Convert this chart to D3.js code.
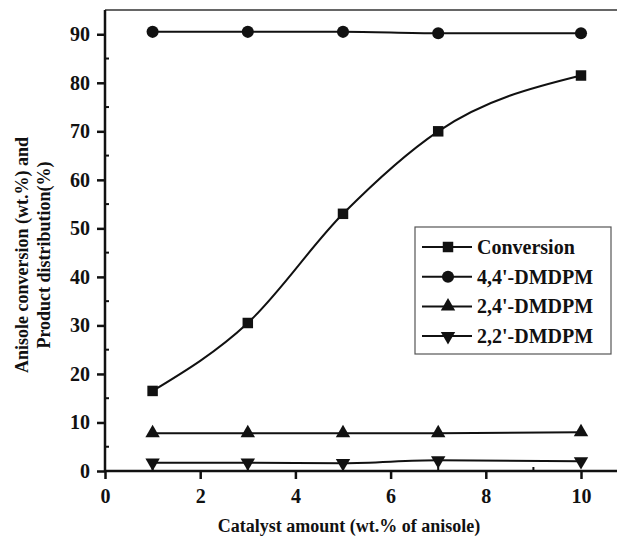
<!DOCTYPE html>
<html lang="en">
<head>
<meta charset="utf-8">
<title>Catalyst amount</title>
<script src="https://cdn.jsdelivr.net/npm/d3@7"></script>
<style>
    body { margin: 0; background: #fff; }
    svg { display: block; font-family: "Liberation Serif", "Times New Roman", serif; font-weight: bold; }
    .axis path, .axis line { stroke: #111; }
</style>
</head>
<body>
<div id="chart"></div>
<script>
// data
var catalyst = [1, 3, 5, 7, 10];
var conversion = [16.5, 30.5, 53, 70, 81.5];
var dmdpm44 = [90.5, 90.5, 90.5, 90.2, 90.2];
var dmdpm24 = [7.8, 7.8, 7.8, 7.8, 8.0];
var dmdpm22 = [1.7, 1.7, 1.6, 2.2, 2.0];
var seriesNames = ["Conversion", "4,4'-DMDPM", "2,4'-DMDPM", "2,2'-DMDPM"];
var seriesSymbols = [d3.symbolSquare, d3.symbolCircle, "up", "down"];
var xTicks = [0, 2, 4, 6, 8, 10];
var yTicks = [0, 10, 20, 30, 40, 50, 60, 70, 80, 90];

var W = 617, H = 538;
var serif = "'Liberation Serif', 'Times New Roman', serif";
var svg = d3.select("#chart").append("svg").attr("width", W).attr("height", H);

var x = d3.scaleLinear().domain([0, 11]).range([105, 105 + 11 * 47.6]);
var y = d3.scaleLinear().domain([0, 95]).range([471, 10]);

// top border (right side runs off the picture)
svg.append("line")
    .attr("x1", x(0)).attr("x2", W)
    .attr("y1", y(95)).attr("y2", y(95))
    .attr("stroke", "#333").attr("stroke-width", 1.5);

// minor ticks, inward
var minorX = d3.range(1, 11, 2);
var minorY = d3.range(5, 95, 10);
svg.selectAll(".mx").data(minorX).enter().append("line")
    .attr("x1", function(d) { return x(d); }).attr("x2", function(d) { return x(d); })
    .attr("y1", y(0)).attr("y2", y(0) - 4)
    .attr("stroke", "#111").attr("stroke-width", 2);
svg.selectAll(".my").data(minorY).enter().append("line")
    .attr("x1", x(0)).attr("x2", x(0) + 4)
    .attr("y1", function(d) { return y(d); }).attr("y2", function(d) { return y(d); })
    .attr("stroke", "#111").attr("stroke-width", 2);

var xAxis = svg.append("g").attr("class", "axis")
    .attr("transform", "translate(0," + y(0) + ")")
    .call(d3.axisBottom(x).tickValues(xTicks).tickSize(8).tickPadding(10).tickSizeOuter(0));
xAxis.select(".domain").attr("stroke-width", 2.5).attr("d", "M" + x(0) + ",0H" + W);

var yAxis = svg.append("g").attr("class", "axis")
    .attr("transform", "translate(" + x(0) + ",0)")
    .call(d3.axisLeft(y).tickValues(yTicks).tickSize(8).tickPadding(7).tickSizeOuter(0));
yAxis.select(".domain").attr("stroke-width", 2.5).attr("d", "M0," + y(95) + "V" + y(0));

[xAxis, yAxis].forEach(function(ax) {
    ax.attr("font-family", serif).attr("font-size", 20).attr("font-weight", "bold");
    ax.selectAll(".tick line").attr("stroke-width", 2.5);
    ax.selectAll(".tick text")
        .style("font-family", serif).style("font-size", "20px").style("font-weight", "bold")
        .attr("fill", "#111");
});

function symbolPath(s, size) {
    if (s === "up" || s === "down") return d3.symbol(d3.symbolTriangle, size)();
    return d3.symbol(s, size)();
}
function symbolRotate(s) { return s === "down" ? " rotate(180)" : ""; }

var allSeries = [conversion, dmdpm44, dmdpm24, dmdpm22];
var line = d3.line()
    .x(function(d, i) { return x(catalyst[i]); })
    .y(function(d) { return y(d); })
    .curve(d3.curveMonotoneX);

allSeries.forEach(function(vals, k) {
    svg.append("path")
        .attr("d", line(vals))
        .attr("fill", "none").attr("stroke", "#111").attr("stroke-width", 2);
    var sz = k === 0 ? 110 : (k === 1 ? 115 : 90);
    svg.selectAll(".m" + k).data(vals).enter().append("path")
        .attr("d", symbolPath(seriesSymbols[k], sz))
        .attr("transform", function(d, i) {
            return "translate(" + x(catalyst[i]) + "," + y(d) + ")" + symbolRotate(seriesSymbols[k]);
        })
        .attr("fill", "#111");
});

// legend
var lg = svg.append("g");
lg.append("rect")
    .attr("x", 415).attr("y", 227).attr("width", 196).attr("height", 127)
    .attr("fill", "#fff").attr("stroke", "#555").attr("stroke-width", 1.2);
seriesNames.forEach(function(name, k) {
    var ry = 247 + k * 29.7;
    lg.append("line").attr("x1", 422).attr("x2", 472).attr("y1", ry).attr("y2", ry)
        .attr("stroke", "#111").attr("stroke-width", 2);
    var sz = k === 0 ? 110 : (k === 1 ? 115 : 90);
    lg.append("path").attr("d", symbolPath(seriesSymbols[k], sz))
        .attr("transform", "translate(448," + ry + ")" + symbolRotate(seriesSymbols[k]))
        .attr("fill", "#111");
    lg.append("text").attr("x", 477).attr("y", ry + 7)
        .attr("font-size", 20).attr("fill", "#111").text(name);
});

// axis titles
svg.append("text")
    .attr("x", x(0) + (W - x(0)) / 2 - 12).attr("y", 532)
    .attr("text-anchor", "middle").attr("font-size", 18).attr("fill", "#111")
    .text("Catalyst amount (wt.% of anisole)");
svg.append("text")
    .attr("transform", "translate(28,255) rotate(-90)")
    .attr("text-anchor", "middle").attr("font-size", 18).attr("fill", "#111")
    .text("Anisole conversion (wt.%) and");
svg.append("text")
    .attr("transform", "translate(50,255) rotate(-90)")
    .attr("text-anchor", "middle").attr("font-size", 18).attr("fill", "#111")
    .text("Product distribution(%)");
</script>
</body>
</html>
